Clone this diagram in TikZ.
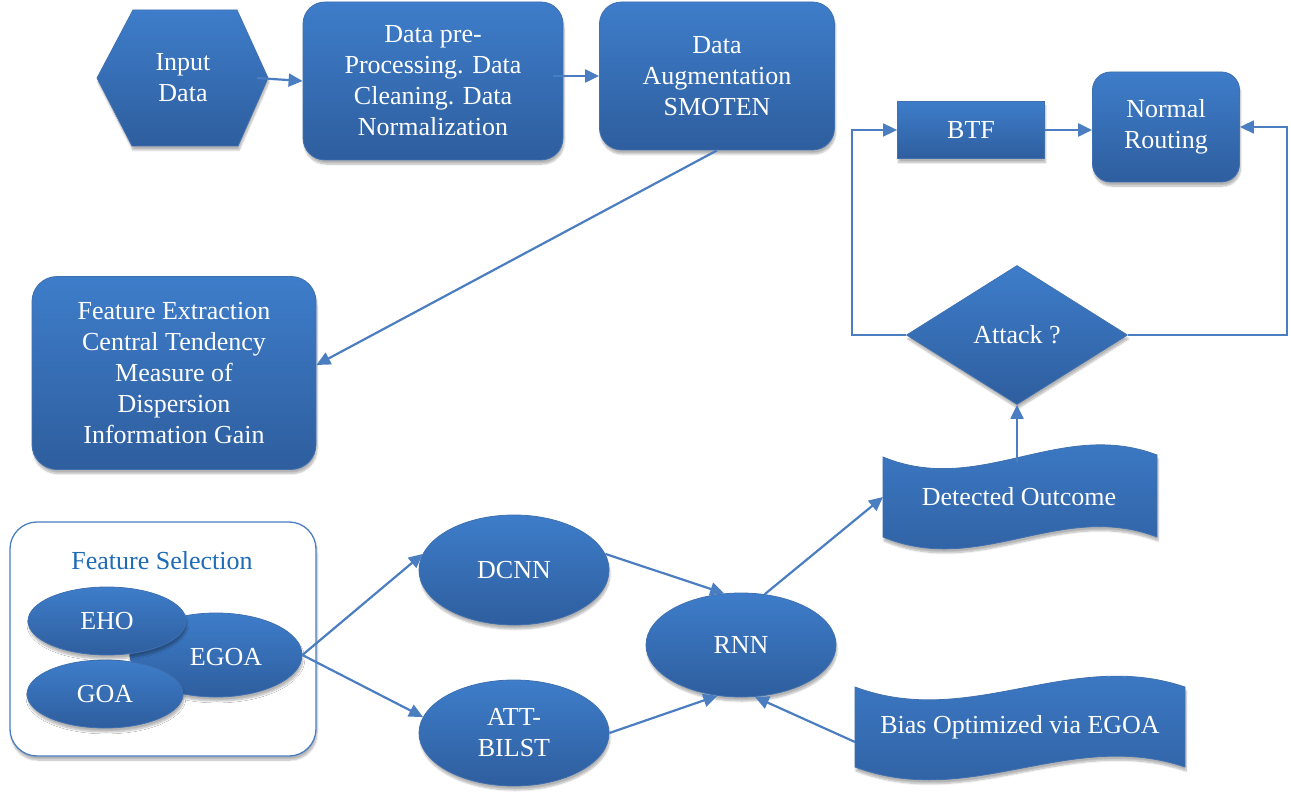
\documentclass[tikz,border=0pt]{standalone}
\usepackage{fontspec}
\setmainfont{Liberation Serif}
\usetikzlibrary{shapes.geometric,arrows.meta,shadows.blur}
\definecolor{fillTop}{RGB}{62,125,202}
\definecolor{fillBot}{RGB}{46,94,158}
\definecolor{edgeBlue}{RGB}{64,112,176}
\definecolor{lineBlue}{RGB}{74,126,192}
\definecolor{titleBlue}{RGB}{30,107,184}
\begin{document}
\begin{tikzpicture}[x=1pt,y=-1pt,
  every node/.style={font=\fontsize{26}{31}\selectfont, text=white, align=center, inner sep=0pt},
  softshadow/.style={blur shadow={shadow xshift=1pt, shadow yshift=-4pt, shadow opacity=30, shadow blur steps=8}},
  blueshade/.style={top color=fillTop, bottom color=fillBot, draw=edgeBlue, line width=0.8pt, softshadow},
  roundbox/.style={rectangle, rounded corners=#1, blueshade},
  roundbox/.default=22pt,
  flatbox/.style={rectangle, blueshade},
  oval/.style={ellipse, blueshade},
  decision/.style={diamond, aspect=1.6, blueshade},
  arr/.style={draw=lineBlue, line width=2.2pt, -{Triangle[length=14pt,width=13pt]}},
  loopline/.style={draw=lineBlue, line width=1.7pt, -{Triangle[length=14pt,width=13pt]}}
]
\useasboundingbox (0,0) rectangle (1291,794);

% ---- input stage ----
\path[blueshade] (97,78) -- (133,10) -- (237,10) -- (268,78) -- (238,146) -- (132,146) -- cycle;
\node (inp) at (183,78) {Input\\Data};
\coordinate (inpout) at (257,78);

\node[roundbox, minimum width=260, minimum height=158] (pre) at (433,81)
  {Data pre-\\Processing. Data\\Cleaning. Data\\Normalization};
\coordinate (preout) at (553,76);

\node[roundbox, minimum width=235, minimum height=148] (aug) at (717,76)
  {Data\\Augmentation\\SMOTEN};

\node[roundbox=25pt, minimum width=284, minimum height=193] (fe) at (174,373)
  {Feature Extraction\\Central Tendency\\Measure of\\Dispersion\\Information Gain};

% ---- routing decision ----
\node[flatbox, minimum width=147, minimum height=57] (btf) at (971,130) {BTF};
\node[roundbox=18pt, minimum width=147, minimum height=110] (nr) at (1166,127) {Normal\\Routing};
\node[decision, minimum width=221, minimum height=139] (att) at (1017,335) {Attack ?};
\coordinate (lx) at (852,335);
\coordinate (rx) at (1287,335);

% ---- feature selection group ----
\node[draw=lineBlue, line width=1.3pt, rounded corners=27pt, fill=white, softshadow,
      minimum width=306, minimum height=234] (fs) at (163,639) {};
\node[text=titleBlue] (fstitle) at (162,561) {Feature Selection};
\node[oval, minimum width=172, minimum height=84] (egoa) at (216,655) {};
\node at (226,657) {EGOA};
\node[oval, minimum width=156, minimum height=68] (goa) at (105,694) {GOA};
\node[oval, minimum width=158, minimum height=68] (eho) at (107,621) {EHO};

% ---- learners ----
\node[oval, minimum width=190, minimum height=110] (dcnn) at (514,570) {DCNN};
\node[oval, minimum width=190, minimum height=106] (attb) at (514,733) {ATT-\\BILST};
\node[oval, minimum width=190, minimum height=104] (rnn) at (741,645) {RNN};

% ---- wave-shaped outputs ----
\path[blueshade] (883,457) .. controls (980,497) and (1060,418) .. (1157,455)
  -- (1157,537) .. controls (1060,500) and (980,577) .. (883,537) -- cycle;
\node (det) at (1019,497) {Detected Outcome};
\coordinate (dleft) at (883,497);
\coordinate (dtop) at (1017,462);

\path[blueshade] (855,687) .. controls (970,730) and (1070,648) .. (1185,687)
  -- (1185,767) .. controls (1070,728) and (970,810) .. (855,767) -- cycle;
\node (bias) at (1020,727) {Bias Optimized via EGOA};
\coordinate (bleft) at (855,742);

% ---- connectors ----
\draw[arr] (inpout) -- (pre.west);
\draw[arr] (preout) -- (aug.west);
\draw[arr] (aug.south) -- ([yshift=8pt]fe.east);
\draw[arr] (btf.east) -- (btf.east -| nr.west);
\draw[loopline] (att.west) -- (lx) |- (btf.west);
\draw[loopline] (att.east) -- (rx) |- (nr.east);
\draw[arr] (dtop) -- (att.south);
\draw[arr] (rnn.65) -- (dleft);
\draw[arr] (bleft) -- (rnn.285);
\draw[arr] (egoa.east) -- (dcnn.170);
\draw[arr] (egoa.east) -- (attb.170);
\draw[arr] (dcnn.10) -- (rnn.108);
\draw[arr] (attb.east) -- (rnn.245);
\end{tikzpicture}
\end{document}
